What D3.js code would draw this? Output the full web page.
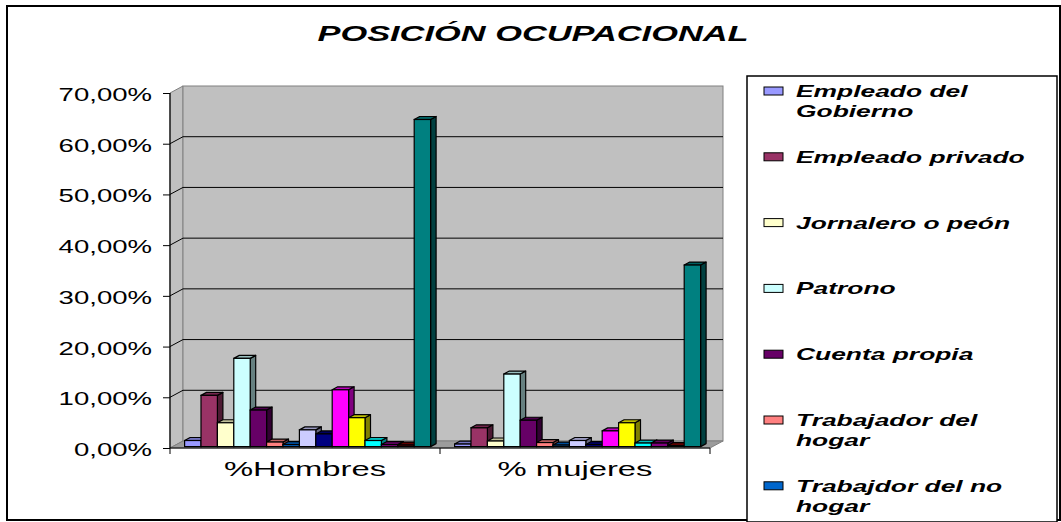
<!DOCTYPE html>
<html>
<head>
  <meta charset="utf-8">
  <title>Posición ocupacional</title>
  <script src="https://d3js.org/d3.v7.min.js"></script>
</head>
<style>
  body {
    margin: 0;
    background: #fff;
  }
  svg text {
    font-family: "Liberation Sans", Arial, sans-serif;
    fill: #000;
  }
  .axis .domain {
    display: none;
  }
  .axis .tick line {
    stroke: #000;
  }
</style>
<body>
  <svg id="chart"></svg>
  <script>
    // values (percent)
    const categories = ["%Hombres", "% mujeres"];
    const seriesNames = [
      "Empleado del Gobierno", "Empleado privado", "Jornalero o peón", "Patrono",
      "Cuenta propia", "Trabajador del hogar", "Trabajdor del no hogar",
      "Serie 8", "Serie 9", "Serie 10", "Serie 11", "Serie 12", "Serie 13", "Serie 14", "Serie 15"
    ];
    const hombres = [1.2, 10.1, 4.7, 17.4, 7.2, 0.9, 0.4, 3.3, 2.5, 11.2, 5.7, 1.2, 0.4, 0.3, 64.5];
    const mujeres = [0.5, 3.7, 1.1, 14.3, 5.2, 0.8, 0.3, 1.2, 0.4, 3.1, 4.7, 0.7, 0.7, 0.2, 35.8];
    const yTicks = [0, 10, 20, 30, 40, 50, 60, 70];
    const colors = ["#9999FF", "#993366", "#FFFFCC", "#CCFFFF", "#660066", "#FF8080", "#0066CC",
      "#CCCCFF", "#000080", "#FF00FF", "#FFFF00", "#00FFFF", "#800080", "#800000", "#008080"];

    const W = 1061, H = 522;
    const sx = 1.6; // the original picture is stretched sideways
    const svg = d3.select("#chart").attr("width", W).attr("height", H);

    // outer frame
    svg.append("rect")
      .attr("x", 7).attr("y", 6).attr("width", 1053).attr("height", 514)
      .attr("fill", "#fff").attr("stroke", "#000").attr("stroke-width", 2);

    // plot geometry
    const left = 170, right = 710, depthX = 13, depthY = -7;
    const y = d3.scaleLinear().domain([0, 70]).range([448, 93]);
    const x0 = d3.scaleBand().domain(categories).range([left, right]);
    const barW = 16.4;
    const gapHalf = (x0.bandwidth() - barW * seriesNames.length) / 2;
    const x1 = d3.scaleBand().domain(seriesNames)
      .range([gapHalf, x0.bandwidth() - gapHalf]);

    const yBase = y(0), yTop = y(70);
    // left wall
    svg.append("polygon")
      .attr("points", [[left, yTop], [left + depthX, yTop + depthY], [left + depthX, yBase + depthY], [left, yBase]].join(" "))
      .attr("fill", "#c0c0c0").attr("stroke", "#808080");
    // back wall
    svg.append("rect")
      .attr("x", left + depthX).attr("y", yTop + depthY)
      .attr("width", right - left).attr("height", yBase - yTop)
      .attr("fill", "#c0c0c0").attr("stroke", "#808080");
    // floor
    svg.append("polygon")
      .attr("points", [[left, yBase], [right, yBase], [right + depthX, yBase + depthY], [left + depthX, yBase + depthY]].join(" "))
      .attr("fill", "#9c9c9c").attr("stroke", "#808080");

    // gridlines on back wall and left wall
    const grid = svg.append("g");
    yTicks.filter(v => v > 0 && v < 70).forEach(v => {
      grid.append("line")
        .attr("x1", left + depthX).attr("x2", right + depthX)
        .attr("y1", y(v) + depthY).attr("y2", y(v) + depthY)
        .attr("stroke", "#000");
      grid.append("line")
        .attr("x1", left).attr("x2", left + depthX)
        .attr("y1", y(v)).attr("y2", y(v) + depthY)
        .attr("stroke", "#000");
    });

    // bars
    const shade = (c, k) => {
      const r = d3.rgb(c);
      return d3.rgb(r.r * k, r.g * k, r.b * k).formatHex();
    };
    const bx = 2.6, by = -1.4, bdx = 5.5, bdy = -3;
    const rows = [];
    categories.forEach((cat, ci) => {
      const vals = ci === 0 ? hombres : mujeres;
      seriesNames.forEach((s, si) => rows.push({ cat: cat, series: s, color: colors[si], value: vals[si] }));
    });
    const bars = svg.append("g").selectAll("g")
      .data(rows)
      .join("g");
    bars.each(function(d) {
      const g = d3.select(this);
      const xa = x0(d.cat) + x1(d.series) + bx;
      const xb = xa + barW;
      const yt = y(d.value) + by;
      const yb = yBase + by;
      g.append("polygon")
        .attr("points", [[xb, yt], [xb + bdx, yt + bdy], [xb + bdx, yb + bdy], [xb, yb]].join(" "))
        .attr("fill", shade(d.color, 0.5)).attr("stroke", "#000").attr("stroke-width", 1.2)
        .attr("stroke-linejoin", "round");
      g.append("polygon")
        .attr("points", [[xa, yt], [xa + bdx, yt + bdy], [xb + bdx, yt + bdy], [xb, yt]].join(" "))
        .attr("fill", shade(d.color, 0.75)).attr("stroke", "#000").attr("stroke-width", 1.2)
        .attr("stroke-linejoin", "round");
      g.append("rect")
        .attr("x", xa).attr("y", yt).attr("width", barW).attr("height", yb - yt)
        .attr("fill", d.color).attr("stroke", "#000").attr("stroke-width", 1.2);
    });

    // y axis
    const fmt = v => d3.format(".2f")(v).replace(".", ",") + "%";
    const yAxis = svg.append("g")
      .attr("class", "axis")
      .attr("transform", `translate(${left},0)`)
      .call(d3.axisLeft(y).tickValues(yTicks).tickSize(7).tickFormat(fmt));
    yAxis.selectAll("text")
      .attr("x", null).attr("dy", null)
      .attr("text-anchor", "end")
      .style("font-size", "19px")
      .attr("transform", `translate(-18,7.5) scale(1.45,1)`);
    svg.append("line")
      .attr("x1", left).attr("x2", left).attr("y1", yTop).attr("y2", yBase)
      .attr("stroke", "#000").attr("stroke-width", 1.2);

    // category axis
    const xAxis = svg.append("g")
      .attr("class", "axis")
      .attr("transform", `translate(0,${yBase})`)
      .call(d3.axisBottom(x0).tickSize(0));
    xAxis.selectAll("text")
      .attr("y", null).attr("dy", null)
      .attr("text-anchor", "middle")
      .style("font-size", "20.5px")
      .attr("transform", `translate(0,28) scale(${sx},1)`);
    svg.append("line")
      .attr("x1", left).attr("x2", right).attr("y1", yBase).attr("y2", yBase)
      .attr("stroke", "#000").attr("stroke-width", 1.2);
    [left, left + x0.bandwidth(), right].forEach(t => {
      svg.append("line")
        .attr("x1", t).attr("x2", t).attr("y1", yBase).attr("y2", yBase + 6)
        .attr("stroke", "#000");
    });

    // title
    svg.append("text")
      .attr("text-anchor", "middle")
      .attr("transform", `translate(533,41) scale(${sx},1)`)
      .style("font-size", "21.5px").style("font-weight", "bold").style("font-style", "italic")
      .text("POSICIÓN OCUPACIONAL");

    // legend (the box is cut by the frame, only the entries that fit are shown)
    svg.append("rect")
      .attr("x", 747).attr("y", 76).attr("width", 310).attr("height", 446)
      .attr("fill", "#fff").attr("stroke", "#000").attr("stroke-width", 1.5);
    const legend = svg.append("g");
    const maxW = 250, legBottom = 519;
    seriesNames.forEach((name, i) => {
      const yb = 97 + i * 65.8;
      if (yb > legBottom) return;
      legend.append("rect")
        .attr("x", 764).attr("y", yb - 10).attr("width", 19).attr("height", 8)
        .attr("fill", colors[i]).attr("stroke", "#000");
      const t = legend.append("text")
        .attr("transform", `translate(796,${yb}) scale(${sx},1)`)
        .style("font-size", "16.5px").style("font-weight", "bold").style("font-style", "italic");
      // greedy wrap on the stretched width
      const words = name.split(" ");
      let line = [], lineNo = 0;
      let tspan = t.append("tspan").attr("x", 0).attr("y", 0);
      words.forEach(w => {
        line.push(w);
        tspan.text(line.join(" "));
        if (tspan.node().getComputedTextLength() * sx > maxW && line.length > 1) {
          line.pop();
          tspan.text(line.join(" "));
          line = [w];
          lineNo++;
          tspan = t.append("tspan").attr("x", 0).attr("y", lineNo * 20).text(w);
        }
      });
    });
  </script>
</body>
</html>
